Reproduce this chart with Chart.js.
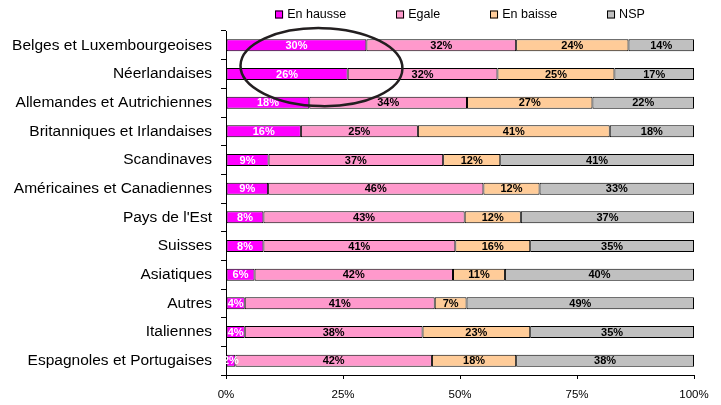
<!DOCTYPE html>
<html>
<head>
<meta charset="utf-8">
<script src="https://cdn.jsdelivr.net/npm/chart.js@4"></script>
<style>
  html, body { margin: 0; padding: 0; background: #fff; }
  #wrap { width: 721px; height: 405px; }
</style>
</head>
<body>
<div id="wrap"><canvas id="graph"></canvas></div>
<script>
const categories = [
  "Belges et Luxembourgeoises", "Néerlandaises", "Allemandes et Autrichiennes",
  "Britanniques et Irlandaises", "Scandinaves", "Américaines et Canadiennes",
  "Pays de l'Est", "Suisses", "Asiatiques", "Autres", "Italiennes",
  "Espagnoles et Portugaises"
];
const seriesNames = ["En hausse", "Egale", "En baisse", "NSP"];
const enHausse = [30, 26, 17.8, 16, 9.1, 9, 8, 8, 6.1, 4, 4, 2];
const egale    = [32, 32, 33.7, 25, 37.3, 46, 43, 41, 42.4, 40.6, 38, 42];
const enBaisse = [24, 25, 26.8, 41, 12.2, 12, 12, 16, 11.1, 6.8, 23, 18];
const nsp      = [14, 17, 21.7, 18, 41.4, 33, 37, 35, 40.4, 48.6, 35, 38];
const xTicks = [0, 25, 50, 75, 100];

const colors = ["#FF00FF", "#FF99CC", "#FFCC99", "#C0C0C0"];
const labelColors = ["#fff", "#000", "#000", "#000"];
const font = "'Liberation Sans', Arial, sans-serif";

// labels inside the bars
const barLabels = {
  id: 'barLabels',
  afterDatasetsDraw(chart) {
    const ctx = chart.ctx;
    ctx.save();
    ctx.font = "bold 11px " + font;
    ctx.textAlign = 'center';
    ctx.textBaseline = 'middle';
    chart.data.datasets.forEach((ds, i) => {
      chart.getDatasetMeta(i).data.forEach((bar, j) => {
        ctx.fillStyle = labelColors[i];
        ctx.fillText(Math.round(ds.data[j]) + '%', (bar.x + bar.base) / 2, bar.y + 0.5);
      });
    });
    ctx.restore();
  }
};

// legend centred over the plot area
const topLegend = {
  id: 'topLegend',
  afterDraw(chart) {
    const ctx = chart.ctx;
    const area = chart.chartArea;
    const gap = 50, box = 8;
    ctx.save();
    ctx.font = "12.5px " + font;
    const widths = seriesNames.map(n => box + 4 + ctx.measureText(n).width);
    const total = widths.reduce((a, b) => a + b, 0) + gap * (widths.length - 1);
    let x = (area.left + area.right) / 2 - total / 2;
    const y = 14.5;
    ctx.textBaseline = 'middle';
    seriesNames.forEach((n, i) => {
      ctx.fillStyle = colors[i];
      ctx.fillRect(x, y - 4, box, box);
      ctx.strokeStyle = '#000';
      ctx.lineWidth = 1;
      ctx.strokeRect(Math.round(x) + 0.5, y - 3.5, box - 1, box - 1);
      ctx.fillStyle = '#000';
      ctx.fillText(n, x + box + 4, y + 0.5);
      x += widths[i] + gap;
    });
    ctx.restore();
  }
};

// the hand-drawn ellipse round the first two rows
const ring = {
  id: 'ring',
  afterDraw(chart) {
    const xs = chart.scales.x, ys = chart.scales.y;
    const cx = xs.getPixelForValue(20.4);
    const y0 = ys.getPixelForValue(0), y1 = ys.getPixelForValue(1);
    const cy = y0 + 0.76 * (y1 - y0);
    const rx = xs.getPixelForValue(17.3) - xs.getPixelForValue(0);
    const ry = 1.36 * (y1 - y0);
    const ctx = chart.ctx;
    ctx.save();
    ctx.beginPath();
    ctx.ellipse(cx, cy, rx, ry, 0.02, 0, Math.PI * 2);
    ctx.strokeStyle = '#231f20';
    ctx.lineWidth = 2.5;
    ctx.stroke();
    ctx.restore();
  }
};

const seriesData = [enHausse, egale, enBaisse, nsp];

new Chart("graph", {
  type: "bar",
  data: {
    labels: categories,
    datasets: seriesNames.map((n, i) => ({
      label: n,
      data: seriesData[i],
      backgroundColor: colors[i],
      borderColor: '#000',
      borderWidth: 1,
      borderSkipped: false,
      barPercentage: 0.42,
      categoryPercentage: 1
    }))
  },
  options: {
    indexAxis: 'y',
    responsive: true,
    maintainAspectRatio: false,
    animation: false,
    layout: { padding: { top: 31, right: 27, left: 0, bottom: 0 } },
    plugins: {
      legend: { display: false },
      tooltip: { enabled: false }
    },
    scales: {
      x: {
        stacked: true,
        min: 0,
        max: 100,
        afterFit: s => { s.height = 30; },
        afterBuildTicks: s => { s.ticks = xTicks.map(v => ({ value: v })); },
        ticks: {
          color: '#000',
          font: { family: font, size: 11.5 },
          padding: 9,
          maxRotation: 0,
          callback: v => v + '%'
        },
        grid: { drawOnChartArea: false, color: '#000', tickLength: 4 },
        border: { display: true, color: '#000', width: 1 }
      },
      y: {
        stacked: true,
        afterFit: s => { s.width = 226; },
        ticks: {
          color: '#000',
          font: { family: font, size: 15.5 },
          padding: 9
        },
        grid: { drawOnChartArea: false, color: '#000', tickLength: 5, offset: true },
        border: { display: true, color: '#000', width: 1 }
      }
    }
  },
  plugins: [barLabels, topLegend, ring]
});
</script>
</body>
</html>
